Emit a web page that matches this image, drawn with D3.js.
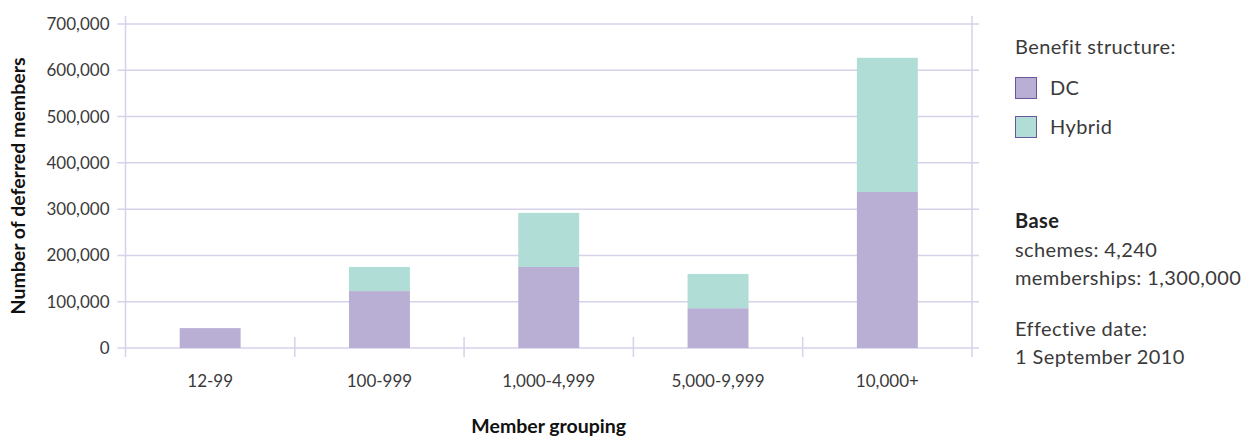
<!DOCTYPE html>
<html>
<head>
<meta charset="utf-8">
<script src="https://cdn.jsdelivr.net/npm/d3@7"></script>
<style>
  body { margin: 0; background: #fff; }
  svg { font-family: Lato, "Open Sans", sans-serif; }
  .tick-text { fill: #3a3a3a; font-size: 17px; }
  .axis-title { fill: #111; font-size: 19.5px; font-weight: 700; }
  .note { fill: #3a3a3a; font-size: 20px; letter-spacing: 0.4px; }
</style>
</head>
<body>
<div id="chart"></div>
<script>
// data
var groupings = ["12-99", "100-999", "1,000-4,999", "5,000-9,999", "10,000+"];
var dcValues = [43000, 123000, 175000, 86000, 337000];
var hybridValues = [0, 52000, 117000, 74000, 290000];
var yTicks = [0, 100000, 200000, 300000, 400000, 500000, 600000, 700000];
var seriesNames = ["DC", "Hybrid"];
var seriesColors = ["#b9afd4", "#b1ddd7"];

var svgWidth = 1245;
var svgHeight = 436;

var plot = { left: 125.5, right: 972, top: 24, bottom: 348 };

var svg = d3.select("#chart")
    .append("svg")
    .attr("width", svgWidth)
    .attr("height", svgHeight);

var x = d3.scaleBand()
    .domain(groupings)
    .range([plot.left, plot.right])
    .paddingInner(0.64)
    .paddingOuter(0.32);

var y = d3.scaleLinear()
    .domain([0, 700000])
    .range([plot.bottom, plot.top]);

var lineColor = "#d5d2ea";

// gridlines
svg.append("g")
    .selectAll("line")
    .data(yTicks)
    .enter()
    .append("line")
    .attr("x1", plot.left - 8)
    .attr("x2", plot.right + 7)
    .attr("y1", d => y(d))
    .attr("y2", d => y(d))
    .attr("stroke", lineColor)
    .attr("stroke-width", 1.5);

// left and right frame lines
[plot.left, plot.right].forEach(function(xx) {
  svg.append("line")
      .attr("x1", xx).attr("x2", xx)
      .attr("y1", plot.top - 8).attr("y2", plot.bottom + 9)
      .attr("stroke", lineColor)
      .attr("stroke-width", 1.5);
});

// boundary ticks between groups
var step = x.step();
svg.append("g")
    .selectAll("line")
    .data(groupings.slice(1))
    .enter()
    .append("line")
    .attr("x1", (d, i) => plot.left + (i + 1) * step)
    .attr("x2", (d, i) => plot.left + (i + 1) * step)
    .attr("y1", plot.bottom - 11)
    .attr("y2", plot.bottom + 9)
    .attr("stroke", lineColor)
    .attr("stroke-width", 1.5);

// stacked bars
var table = groupings.map(function(g, i) {
  return { group: g, DC: dcValues[i], Hybrid: hybridValues[i] };
});
var stacked = d3.stack().keys(seriesNames)(table);

svg.append("g")
    .selectAll("g")
    .data(stacked)
    .enter()
    .append("g")
    .attr("fill", (d, i) => seriesColors[i])
    .selectAll("rect")
    .data(d => d)
    .enter()
    .append("rect")
    .attr("x", d => x(d.data.group))
    .attr("width", x.bandwidth())
    .attr("y", d => y(d[1]))
    .attr("height", d => y(d[0]) - y(d[1]));

// y axis labels
var leftAxis = d3.axisLeft(y)
    .tickValues(yTicks)
    .tickFormat(d3.format(","))
    .tickSize(0)
    .tickPadding(16);

var yAxisG = svg.append("g")
    .attr("transform", `translate(${plot.left}, 0)`)
    .call(leftAxis);
yAxisG.select(".domain").remove();
yAxisG.selectAll("text").attr("class", "tick-text").attr("fill", null);
yAxisG.attr("font-size", null).attr("font-family", null);

// x axis labels
var bottomAxis = d3.axisBottom(x).tickSize(0).tickPadding(27);
var xAxisG = svg.append("g")
    .attr("transform", `translate(0, ${plot.bottom})`)
    .call(bottomAxis);
xAxisG.select(".domain").remove();
xAxisG.selectAll("text").attr("class", "tick-text").attr("fill", null);
xAxisG.attr("font-size", null).attr("font-family", null);

// axis titles
svg.append("text")
    .attr("class", "axis-title")
    .attr("transform", `translate(25, ${(plot.top + plot.bottom) / 2}) rotate(-90)`)
    .attr("text-anchor", "middle")
    .text("Number of deferred members");

svg.append("text")
    .attr("class", "axis-title")
    .attr("x", (plot.left + plot.right) / 2)
    .attr("y", 433)
    .attr("text-anchor", "middle")
    .text("Member grouping");

// legend
var legendX = 1015;
svg.append("text")
    .attr("class", "note")
    .attr("x", legendX)
    .attr("y", 54)
    .text("Benefit structure:");

var legend = svg.append("g")
    .selectAll("g")
    .data(seriesNames)
    .enter()
    .append("g")
    .attr("transform", (d, i) => `translate(${legendX}, ${77 + i * 39})`);

legend.append("rect")
    .attr("x", 0.5)
    .attr("y", 0.5)
    .attr("width", 21)
    .attr("height", 21)
    .attr("fill", (d, i) => seriesColors[i])
    .attr("stroke", "#6a55a0")
    .attr("stroke-width", 1);

legend.append("text")
    .attr("class", "note")
    .attr("x", 35)
    .attr("y", 18)
    .text(d => d);

// base notes
svg.append("text")
    .attr("class", "note")
    .attr("x", legendX)
    .attr("y", 228)
    .attr("font-weight", 700)
    .style("fill", "#222")
    .text("Base");

var notes = [
  { text: "schemes: 4,240", y: 257 },
  { text: "memberships: 1,300,000", y: 285 },
  { text: "Effective date:", y: 336 },
  { text: "1 September 2010", y: 364 }
];
svg.append("g")
    .selectAll("text")
    .data(notes)
    .enter()
    .append("text")
    .attr("class", "note")
    .attr("x", legendX)
    .attr("y", d => d.y)
    .text(d => d.text);
</script>
</body>
</html>
